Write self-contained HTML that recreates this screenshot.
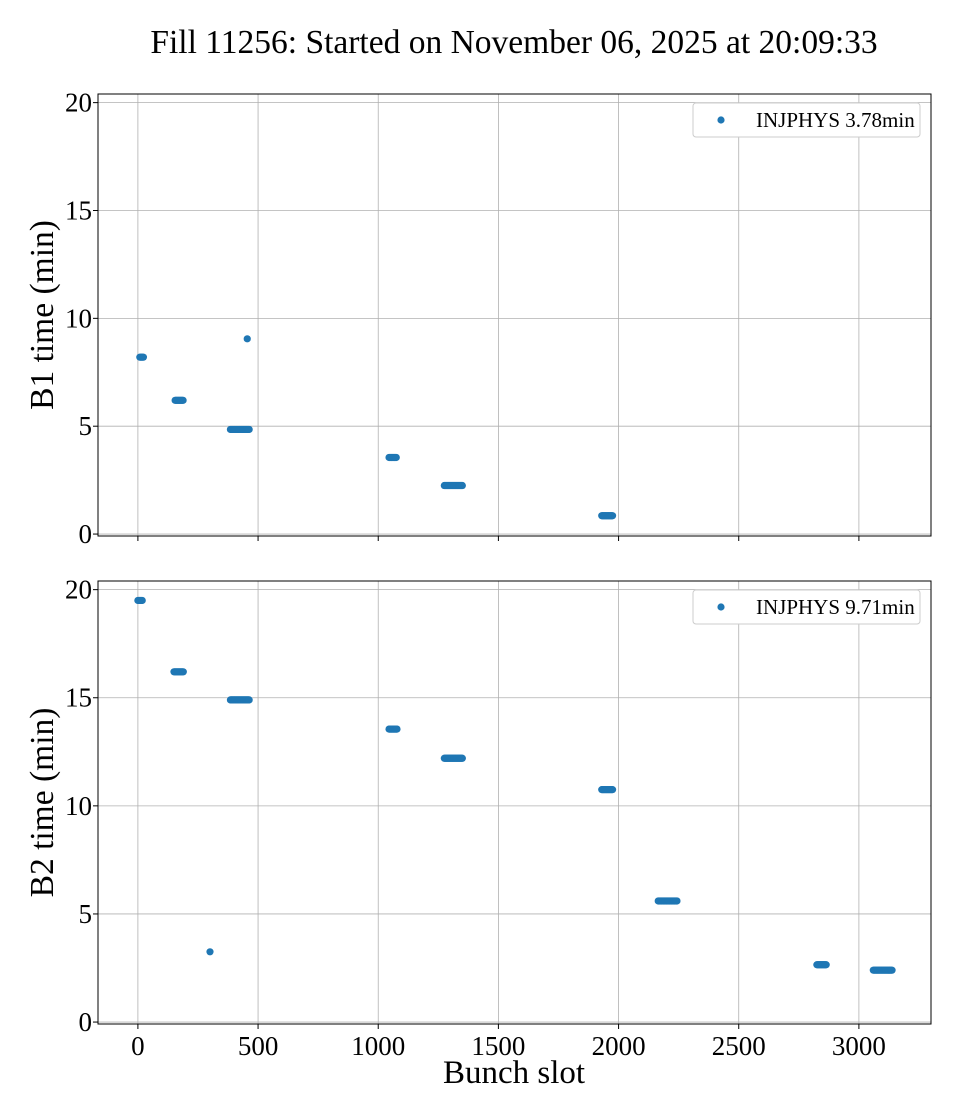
<!DOCTYPE html>
<html><head><meta charset="utf-8"><style>
body{margin:0;background:#fff}
svg{display:block;font-family:"Liberation Serif",serif}
</style></head><body>
<svg id="c" width="960" height="1120">
<text x="514" y="53" font-size="33.5" text-anchor="middle">Fill 11256: Started on November 06, 2025 at 20:09:33</text>
</svg>
<script>
const xTicks=[0,500,1000,1500,2000,2500,3000];
const yTicks=[0,5,10,15,20];
// clusters: [startSlot, endSlot, timeMin]
const b1Starts=[8,155,385,455,1045,1275,1930];
const b1Ends=[25,190,465,455,1075,1350,1975];
const b1Times=[8.2,6.2,4.85,9.05,3.55,2.25,0.85];
const b2Starts=[0,150,385,300,1045,1275,1930,2165,2825,3060];
const b2Ends=[20,190,465,300,1080,1350,1975,2245,2865,3140];
const b2Times=[19.5,16.2,14.9,3.25,13.55,12.2,10.75,5.6,2.65,2.4];
const legend1="INJPHYS 3.78min", legend2="INJPHYS 9.71min";
const NS="http://www.w3.org/2000/svg";
const svg=document.getElementById('c');
function mk(t,a,p){const e=document.createElementNS(NS,t);for(const k in a)e.setAttribute(k,a[k]);(p||svg).appendChild(e);return e;}
const L=98,R=931,xmin=-166,xmax=3300,ymin=-0.09,ymax=20.4;
const X=v=>L+(v-xmin)/(xmax-xmin)*(R-L);
function panel(top,bot,starts,ends,times,ylabel,leg,showX,name){
  const g=mk('g',{});
  
  
  const Y=v=>bot-(v-ymin)/(ymax-ymin)*(bot-top);
  xTicks.forEach(t=>{const l=mk('line',{x1:X(t),x2:X(t),y1:top,y2:bot,stroke:'#b0b0b0','stroke-width':0.8},g);
    
    mk('line',{x1:X(t),x2:X(t),y1:bot,y2:bot+5,stroke:'#000'},g);
    if(showX){const tx=mk('text',{x:X(t),y:bot+31,'font-size':27,'text-anchor':'middle'},g);tx.textContent=t;
    }});
  yTicks.forEach(t=>{const l=mk('line',{x1:L,x2:R,y1:Y(t),y2:Y(t),stroke:'#b0b0b0','stroke-width':0.8},g);
    
    mk('line',{x1:L-5,x2:L,y1:Y(t),y2:Y(t),stroke:'#000'},g);
    const tx=mk('text',{x:L-6,y:Y(t)+9,'font-size':27,'text-anchor':'end'},g);tx.textContent=t;
    });
  starts.forEach((s,i)=>{for(let v=s;v<=ends[i];v+=3){const c=mk('circle',{cx:X(v),cy:Y(times[i]),r:3.6,fill:'#1f77b4'},g);
    }});
  const f=mk('rect',{x:L,y:top,width:R-L,height:bot-top,fill:'none',stroke:'#000','stroke-width':1},g);
  
  const yl=mk('text',{x:0,y:0,'font-size':33.5,'text-anchor':'middle',transform:`translate(53,${(top+bot)/2}) rotate(-90)`},g);
  yl.textContent=ylabel;
  const lg=mk('g',{},g);
  mk('rect',{x:693,y:top+9,width:227,height:34,rx:3,fill:'#fff',stroke:'#ccc'},lg);
  mk('circle',{cx:721,cy:top+26,r:3.6,fill:'#1f77b4'},lg);
  const lt=mk('text',{x:756,y:top+33,'font-size':21},lg);lt.textContent=leg;
  
}
panel(94,536,b1Starts,b1Ends,b1Times,'B1 time (min)',legend1,false,'b1-panel');
panel(581,1024,b2Starts,b2Ends,b2Times,'B2 time (min)',legend2,true,'b2-panel');
const xl=mk('text',{x:514,y:1083,'font-size':33,'text-anchor':'middle'});xl.textContent='Bunch slot';


</script>
</body></html>
